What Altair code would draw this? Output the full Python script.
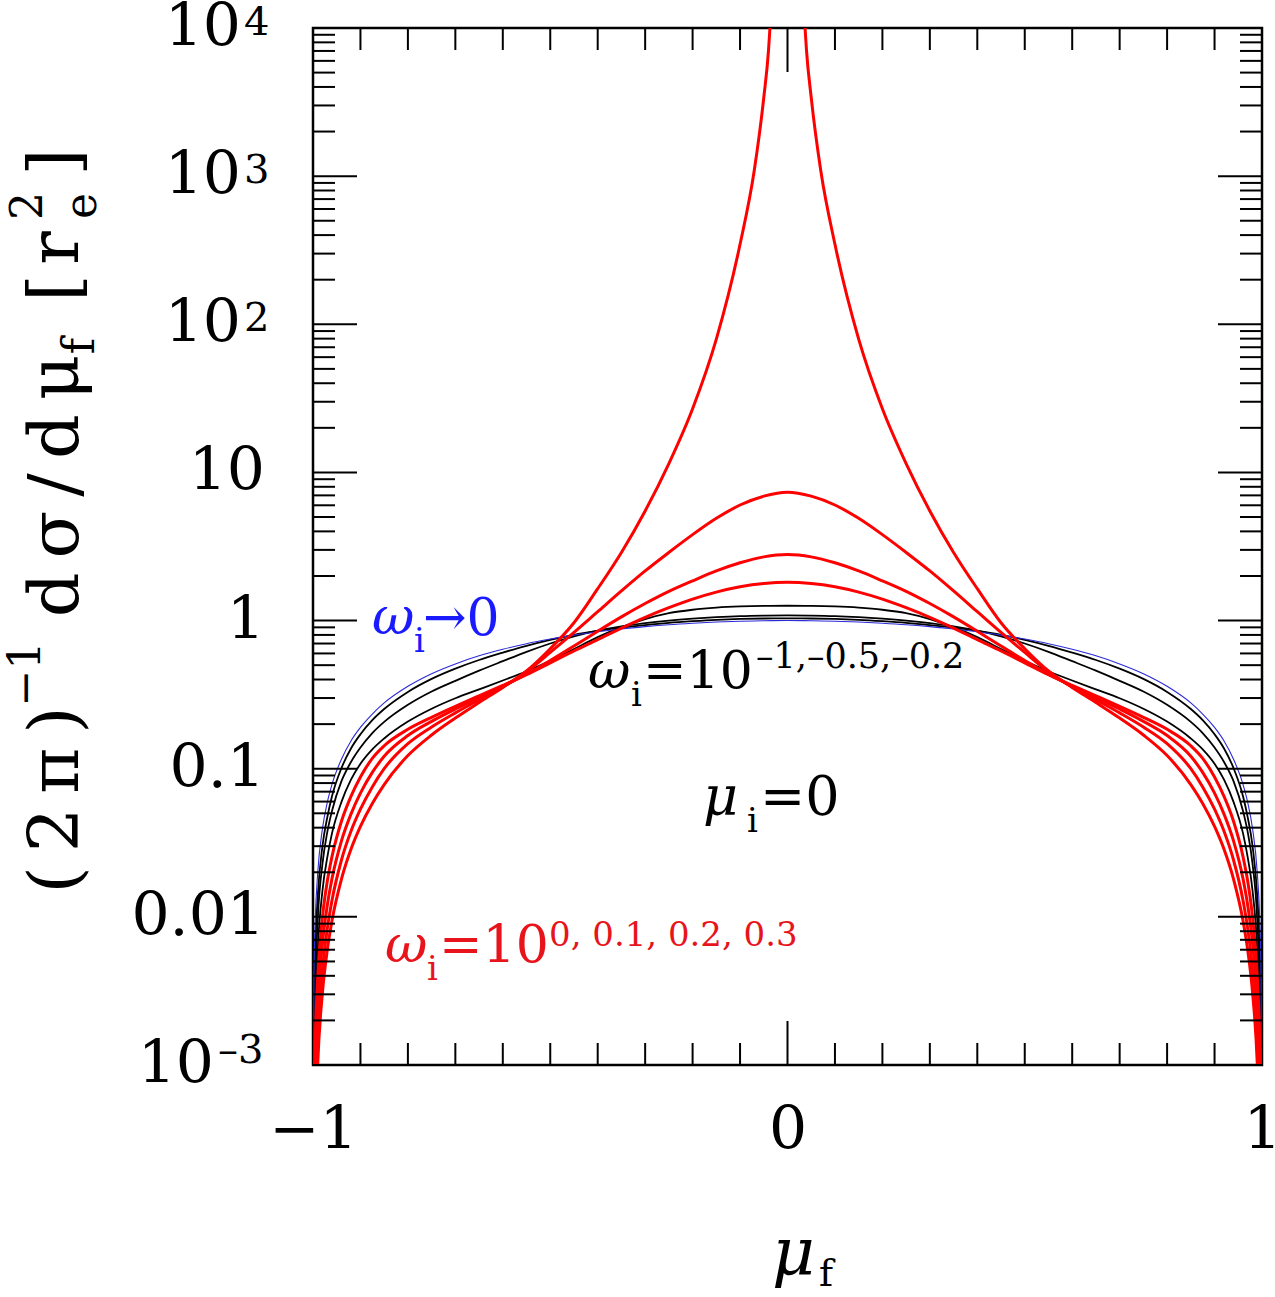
import altair as alt
import pandas as pd

# ---------------- data ----------------
mu_grid = [-1.0, -0.998, -0.995, -0.99, -0.98, -0.97, -0.96, -0.94, -0.92, -0.9, -0.875, -0.85,
           -0.8, -0.75, -0.7, -0.65, -0.6, -0.55, -0.5, -0.45, -0.4, -0.35, -0.3, -0.25, -0.2,
           -0.15, -0.1, -0.05, 0.0,
           0.05, 0.1, 0.15, 0.2, 0.25, 0.3, 0.35, 0.4, 0.45, 0.5, 0.55, 0.6, 0.65, 0.7, 0.75,
           0.8, 0.85, 0.875, 0.9, 0.92, 0.94, 0.96, 0.97, 0.98, 0.99, 0.995, 0.998, 1.0]

# omega_i -> 0 (blue)
blue_vals = [0.0001, 0.004, 0.00998, 0.0199, 0.0396, 0.0591, 0.0784, 0.116, 0.154, 0.19, 0.234, 0.278,
             0.36, 0.438, 0.51, 0.578, 0.64, 0.698, 0.75, 0.798, 0.84, 0.878, 0.91, 0.938, 0.96,
             0.978, 0.99, 0.998, 1.0,
             0.998, 0.99, 0.978, 0.96, 0.938, 0.91, 0.878, 0.84, 0.798, 0.75, 0.698, 0.64, 0.578,
             0.51, 0.438, 0.36, 0.278, 0.234, 0.19, 0.154, 0.116, 0.0784, 0.0591, 0.0396, 0.0199,
             0.00998, 0.004, 0.0001]

# omega_i = 10^-1, 10^-0.5, 10^-0.2 (black)
b1_vals = [0.0001, 0.00224, 0.00631, 0.0138, 0.0302, 0.0468, 0.0652, 0.101, 0.137, 0.171, 0.213, 0.253,
           0.330, 0.404, 0.474, 0.542, 0.608, 0.676, 0.741, 0.802, 0.851, 0.895, 0.933, 0.966, 0.991,
           1.012, 1.026, 1.033, 1.035,
           1.033, 1.026, 1.012, 0.991, 0.966, 0.933, 0.895, 0.851, 0.802, 0.741, 0.676, 0.608, 0.542,
           0.474, 0.404, 0.330, 0.253, 0.213, 0.171, 0.137, 0.101, 0.0652, 0.0468, 0.0302, 0.0138,
           0.00631, 0.00224, 0.0001]
b2_vals = [0.0001, 0.001, 0.00355, 0.00955, 0.0229, 0.0372, 0.0518, 0.0824, 0.111, 0.139, 0.174, 0.207,
           0.270, 0.332, 0.392, 0.459, 0.532, 0.615, 0.700, 0.783, 0.855, 0.914, 0.962, 1.0, 1.030,
           1.054, 1.072, 1.081, 1.084,
           1.081, 1.072, 1.054, 1.030, 1.0, 0.962, 0.914, 0.855, 0.783, 0.700, 0.615, 0.532, 0.459,
           0.392, 0.332, 0.270, 0.207, 0.174, 0.139, 0.111, 0.0824, 0.0518, 0.0372, 0.0229, 0.00955,
           0.00355, 0.001, 0.0001]
b3_vals = [0.0001, 0.000562, 0.00209, 0.00589, 0.0151, 0.0251, 0.0366, 0.0597, 0.0843, 0.108, 0.135, 0.160,
           0.208, 0.254, 0.299, 0.343, 0.394, 0.455, 0.535, 0.643, 0.773, 0.902, 1.023, 1.122, 1.183,
           1.222, 1.245, 1.256, 1.259,
           1.256, 1.245, 1.222, 1.183, 1.122, 1.023, 0.902, 0.773, 0.643, 0.535, 0.455, 0.394, 0.343,
           0.299, 0.254, 0.208, 0.160, 0.135, 0.108, 0.0843, 0.0597, 0.0366, 0.0251, 0.0151, 0.00589,
           0.00209, 0.000562, 0.0001]

# omega_i = 10^0, 10^0.1, 10^0.2 (red)
r1_vals = [0.0001, 0.000447, 0.00155, 0.00393, 0.0100, 0.0173, 0.0255, 0.0442, 0.0650, 0.0879, 0.1175, 0.1429,
           0.1845, 0.2223, 0.2636, 0.3105, 0.3648, 0.4315, 0.5188, 0.6237, 0.7430, 0.8892, 1.052, 1.222, 1.396,
           1.556, 1.690, 1.778, 1.811,
           1.778, 1.690, 1.556, 1.396, 1.222, 1.052, 0.8892, 0.7430, 0.6237, 0.5188, 0.4315, 0.3648, 0.3105,
           0.2636, 0.2223, 0.1845, 0.1429, 0.1175, 0.0879, 0.0650, 0.0442, 0.0255, 0.0173, 0.0100, 0.00393,
           0.00155, 0.000447, 0.0001]
r2_vals = [0.0001, 0.000235, 0.000887, 0.00243, 0.00662, 0.0119, 0.0181, 0.0326, 0.0494, 0.0684, 0.0944, 0.1213,
           0.1675, 0.2089, 0.2529, 0.3020, 0.3600, 0.4345, 0.5370, 0.6730, 0.8472, 1.059, 1.303, 1.574, 1.854,
           2.163, 2.455, 2.692, 2.793,
           2.692, 2.455, 2.163, 1.854, 1.574, 1.303, 1.059, 0.8472, 0.6730, 0.5370, 0.4345, 0.3600, 0.3020,
           0.2529, 0.2089, 0.1675, 0.1213, 0.0944, 0.0684, 0.0494, 0.0326, 0.0181, 0.0119, 0.00662, 0.00243,
           0.000887, 0.000235, 0.0001]
r3_vals = [0.0001, 0.000124, 0.000514, 0.00150, 0.00441, 0.00826, 0.0129, 0.0242, 0.0378, 0.0533, 0.0753, 0.100,
           0.1476, 0.1914, 0.2382, 0.2917, 0.3565, 0.4519, 0.6095, 0.8318, 1.148, 1.585, 2.163, 2.884, 3.802,
           4.898, 6.026, 6.918, 7.362,
           6.918, 6.026, 4.898, 3.802, 2.884, 2.163, 1.585, 1.148, 0.8318, 0.6095, 0.4519, 0.3565, 0.2917,
           0.2382, 0.1914, 0.1476, 0.100, 0.0753, 0.0533, 0.0378, 0.0242, 0.0129, 0.00826, 0.00441, 0.00150,
           0.000514, 0.000124, 0.0001]

# omega_i = 10^0.3 (red, diverging at mu_f = 0): two branches
spike_mu_left = [-1.0, -0.998, -0.995, -0.99, -0.98, -0.97, -0.96, -0.94, -0.92, -0.9, -0.875, -0.85,
                 -0.8, -0.75, -0.7, -0.65, -0.6, -0.55, -0.5, -0.45, -0.4, -0.35, -0.3, -0.25, -0.2,
                 -0.15, -0.1, -0.07, -0.05, -0.04, -0.037, -0.033]
spike_left = [0.0000316, 0.0000782, 0.000339, 0.001026, 0.00311, 0.00594, 0.00942, 0.0180, 0.0286, 0.0408,
              0.0583, 0.0782, 0.1227, 0.1690, 0.2198, 0.2799, 0.3540, 0.4571, 0.6457, 0.9661, 1.641, 2.884,
              5.495, 11.48, 26.92, 79.43, 346.7, 1096, 3388, 7080, 10000, 15850]
spike_mu_right = [0.033, 0.037, 0.04, 0.05, 0.07, 0.1, 0.15, 0.2, 0.25, 0.3, 0.35, 0.4, 0.45, 0.5, 0.55,
                  0.6, 0.65, 0.7, 0.75, 0.8, 0.85, 0.875, 0.9, 0.92, 0.94, 0.96, 0.97, 0.98, 0.99, 0.995,
                  0.998, 1.0]
spike_right = [15850, 10000, 7080, 3388, 1096, 346.7, 79.43, 26.92, 11.48, 5.495, 2.884, 1.641, 0.9661,
               0.6457, 0.4571, 0.3540, 0.2799, 0.2198, 0.1690, 0.1227, 0.0782, 0.0583, 0.0408, 0.0286,
               0.0180, 0.00942, 0.00594, 0.00311, 0.001026, 0.000339, 0.0000782, 0.0000316]

# axis ticks and labels
x_minor_ticks = [-0.9, -0.8, -0.7, -0.6, -0.5, -0.4, -0.3, -0.2, -0.1,
                 0.1, 0.2, 0.3, 0.4, 0.5, 0.6, 0.7, 0.8, 0.9]
x_major_ticks = [0.0]
x_label_values = [-1, 0, 1]
y_major_ticks = [0.001, 0.01, 0.1, 1, 10, 100, 1000, 10000]
y_minor_ticks = [k * d for d in [0.001, 0.01, 0.1, 1, 10, 100, 1000] for k in range(2, 10)]
ylab_plain_vals, ylab_plain_text = [10, 1, 0.1, 0.01], ["10", "1", "0.1", "0.01"]
ylab_pow_vals, ylab_pow_sup = [10000, 1000, 100], ["4", "3", "2"]
ylab_neg_vals, ylab_neg_sup = [0.001], ["\u20133"]

# ---------------- chart ----------------
W, H = 949, 1037
OX, OY = 313, 28
FONT = "DejaVu Serif"

xs = alt.Scale(domain=[-1, 1], nice=False, zero=False)
ys = alt.Scale(type="log", domain=[0.001, 10000], nice=False)
xaxis = alt.Axis(values=x_label_values,
                 labelExpr="datum.value < -0.5 ? '\u22121' : (datum.value > 0.5 ? '1' : '0')",
                 labelFontSize=60, labelFont=FONT, labelPadding=36, labelColor="black",
                 labelFlush=False, labelOverlap=False, labelBound=False,
                 ticks=False, domain=False, grid=False, title=None)
X = alt.X("mu:Q", scale=xs, axis=xaxis)
Y = alt.Y("v:Q", scale=ys, axis=None)


def curve_df(name, mus, vals):
    return pd.DataFrame({"mu": mus, "v": vals, "s": name})


blacks = pd.concat([curve_df("b1", mu_grid, b1_vals), curve_df("b2", mu_grid, b2_vals),
                    curve_df("b3", mu_grid, b3_vals)])
blues = curve_df("blue", mu_grid, blue_vals)
reds = pd.concat([curve_df("r1", mu_grid, r1_vals), curve_df("r2", mu_grid, r2_vals),
                  curve_df("r3", mu_grid, r3_vals), curve_df("r4a", spike_mu_left, spike_left),
                  curve_df("r4b", spike_mu_right, spike_right)])

black_layer = alt.Chart(blacks).mark_line(color="black", strokeWidth=1.8, clip=True,
                                          interpolate="monotone").encode(x=X, y=Y, detail="s:N")
blue_layer = alt.Chart(blues).mark_line(color="#2b2bd9", strokeWidth=1.1, clip=True,
                                        interpolate="monotone").encode(x=X, y=Y, detail="s:N")
red_layer = alt.Chart(reds).mark_line(color="#ff0000", strokeWidth=3, clip=True,
                                      interpolate="monotone").encode(x=X, y=Y, detail="s:N")

MINOR, MAJOR, TW = 22, 44, 2
xmin_df = pd.DataFrame({"mu": x_minor_ticks})
xmaj_df = pd.DataFrame({"mu": x_major_ticks})
ymin_df = pd.DataFrame({"v": y_minor_ticks})
ymaj_df = pd.DataFrame({"v": y_major_ticks})

tick_layers = []
for df, L in [(xmin_df, MINOR), (xmaj_df, MAJOR)]:
    tick_layers.append(alt.Chart(df).mark_rule(color="black", strokeWidth=TW).encode(
        x=X, y=alt.value(H), y2=alt.value(H - L)))
    tick_layers.append(alt.Chart(df).mark_rule(color="black", strokeWidth=TW).encode(
        x=X, y=alt.value(0), y2=alt.value(L)))
for df, L in [(ymin_df, MINOR), (ymaj_df, MAJOR)]:
    tick_layers.append(alt.Chart(df).mark_rule(color="black", strokeWidth=TW).encode(
        y=Y, x=alt.value(0), x2=alt.value(L)))
    tick_layers.append(alt.Chart(df).mark_rule(color="black", strokeWidth=TW).encode(
        y=Y, x=alt.value(W), x2=alt.value(W - L)))


# y tick labels, positioned through the y scale
def ylabels(vals, texts, right_px, size=60, baseline="middle", align="right", dy=0):
    df = pd.DataFrame({"v": vals, "t": texts})
    return alt.Chart(df).mark_text(font=FONT, fontSize=size, color="black", align=align,
                                   baseline=baseline, dy=dy).encode(
        y=Y, x=alt.value(right_px - OX), text="t:N")


label_layers = [
    ylabels(ylab_plain_vals, ylab_plain_text, 265),
    ylabels(ylab_pow_vals, ["10"] * len(ylab_pow_vals), 241),
    ylabels(ylab_neg_vals, ["10"] * len(ylab_neg_vals), 214),
    ylabels(ylab_pow_vals, ylab_pow_sup, 244, size=40, baseline="alphabetic", align="left", dy=7),
    ylabels(ylab_neg_vals, ylab_neg_sup, 218, size=40, baseline="alphabetic", align="left", dy=-2),
]


def txt(s, px, py, size, color="black", italic=False, angle=0, align="left"):
    kw = dict(font=FONT, fontSize=size, color=color, align=align, baseline="alphabetic")
    if italic:
        kw["fontStyle"] = "italic"
    if angle:
        kw["angle"] = angle
    return alt.Chart(pd.DataFrame({"t": [s]})).mark_text(**kw).encode(
        text="t:N", x=alt.value(px - OX), y=alt.value(py - OY))


BLUE_T, RED_T = "#1a1aff", "#e8141c"
TS = "\u2009"
texts = [
    # omega_i -> 0
    txt("\u03c9", 372, 634, 52, BLUE_T, italic=True),
    txt("i", 414, 652, 34, BLUE_T),
    txt("\u21920", 423, 635, 52, BLUE_T),
    # omega_i = 10^{-1,-0.5,-0.2}
    txt("\u03c9", 588, 688, 52, italic=True),
    txt("i", 631, 706, 34),
    txt("=10", 643, 688, 52),
    txt("\u20131,\u20130.5,\u20130.2", 756, 668, 35),
    # mu_i = 0
    txt("\u03bc", 703, 815, 54, italic=True),
    txt("i", 747, 832, 34),
    txt("=0", 760, 815, 54),
    # omega_i = 10^{0, 0.1, 0.2, 0.3}
    txt("\u03c9", 385, 962, 52, RED_T, italic=True),
    txt("i", 427, 980, 34, RED_T),
    txt("=10", 439, 962, 52, RED_T),
    txt("0, 0.1, 0.2, 0.3", 549, 946, 34, RED_T),
    # x title
    txt("\u03bc", 772, 1274, 66, italic=True),
    txt("f", 819, 1286, 38),
    # y title (rotated)
    txt("(" + TS + "2" + TS + "\u03c0" + TS + ")", 78, 800, 70, angle=270, align="center"),
    txt("\u22121", 40, 674, 44, angle=270, align="center"),
    txt("d" + TS + "\u03c3" + TS + "/" + TS + "d" + TS + "\u03bc", 78, 486, 70, angle=270, align="center"),
    txt("f", 94, 346, 44, angle=270, align="center"),
    txt("[", 78, 288, 70, angle=270, align="center"),
    txt("r", 78, 248, 70, angle=270, align="center"),
    txt("2", 42, 206, 44, angle=270, align="center"),
    txt("e", 96, 206, 44, angle=270, align="center"),
    txt("]", 78, 162, 70, angle=270, align="center"),
]

chart = alt.layer(black_layer, blue_layer, red_layer, *tick_layers, *label_layers, *texts).properties(
    width=W, height=H,
    padding={"left": OX, "top": OY, "right": 1275 - OX - W, "bottom": 1297 - OY - H},
    autosize=alt.AutoSizeParams(type="none"),
    background="white",
).configure_view(stroke="black", strokeWidth=2.5)

chart.save("out.html", embed_options={"renderer": "svg", "actions": False})
